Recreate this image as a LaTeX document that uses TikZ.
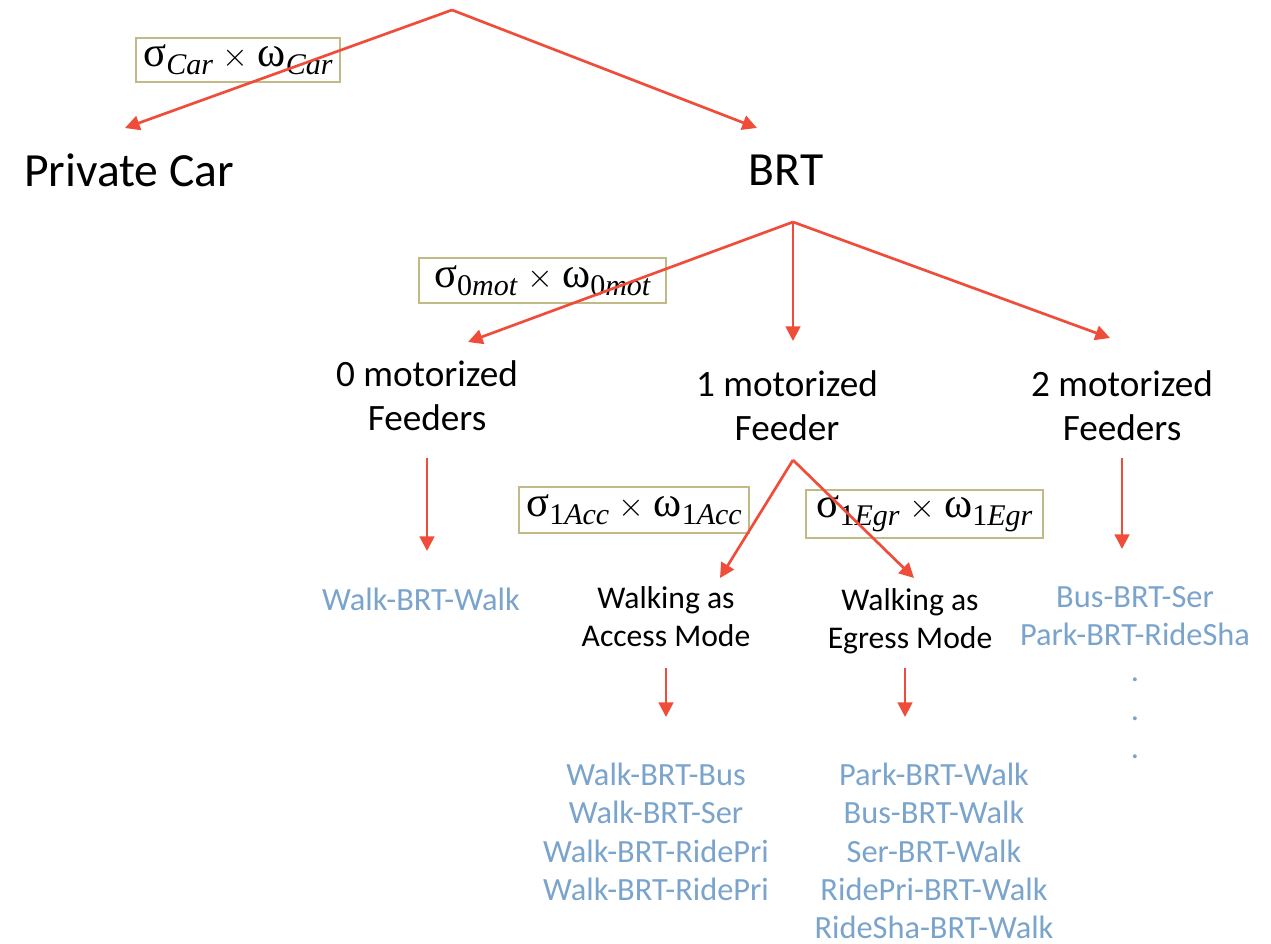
\documentclass[tikz,border=0pt]{standalone}
\usepackage{fontspec}
\setmainfont{Carlito}
\newfontfamily\lserif{Liberation Serif}
\usetikzlibrary{arrows.meta}
\definecolor{arr}{RGB}{240,76,58}
\definecolor{lst}{RGB}{122,164,203}
\definecolor{bxc}{RGB}{193,186,134}
\newcommand{\subx}[1]{\raisebox{-6pt}{\fontsize{22.5}{22.5}\selectfont #1}}
\newcommand{\wlab}[2]{{\lserif\fontsize{32}{34}\selectfont σ\subx{#1}\hspace{7pt}$\times$\hspace{7pt}ω\subx{#2}}}
\tikzset{
  conn/.style={draw=arr, line width=2pt, -{Triangle[length=11pt,width=11pt]}},
  big/.style={font=\fontsize{35.7}{42}\selectfont, inner sep=0pt},
  mid/.style={font=\fontsize{27.9}{33}\selectfont, align=center, inner sep=0pt},
  sml/.style={font=\fontsize{23.7}{28.6}\selectfont, align=center, inner sep=0pt},
  blu/.style={font=\fontsize{24.3}{28.8}\selectfont, align=center, inner sep=0pt, text=lst},
  wbox/.style={draw=bxc, line width=1.8pt, fill=white, inner sep=0pt},
}
\begin{document}
\begin{tikzpicture}[x=0.75pt,y=-0.75pt]
\useasboundingbox[fill=white] (0,0) rectangle (1271,944);
% weight boxes
\node[wbox, minimum width=204*0.75pt, minimum height=44*0.75pt] (b1) at (238,60) {\wlab{\textit{Car}}{\textit{Car}}};
\node[wbox, minimum width=247*0.75pt, minimum height=45*0.75pt] (b2) at (542.5,280.5) {\wlab{0\textit{mot}}{0\textit{mot}}};
\node[wbox, minimum width=230*0.75pt, minimum height=46*0.75pt] (b3) at (634,510) {\wlab{1\textit{Acc}}{1\textit{Acc}}};
\node[wbox, minimum width=237*0.75pt, minimum height=48*0.75pt] (b4) at (924.5,514) {\wlab{1\textit{Egr}}{1\textit{Egr}}};
% texts
\node[big] (pc) at (129,170) {Private Car};
\node[big] (brt) at (786,170) {BRT};
\node[mid] (m0) at (427,396) {0 motorized\\Feeders};
\node[mid] (m1) at (787,405.5) {1 motorized\\Feeder};
\node[mid] (m2) at (1122,405.5) {2 motorized\\Feeders};
\node[blu] (w0) at (421,599) {Walk-BRT-Walk};
\node[sml] (acc) at (666,617) {Walking as\\Access Mode};
\node[sml] (egr) at (910,621) {Walking as\\Egress Mode};
\node[blu] (la) at (656,832) {Walk-BRT-Bus\\Walk-BRT-Ser\\Walk-BRT-RidePri\\Walk-BRT-RidePri};
\node[blu] (le) at (934,851) {Park-BRT-Walk\\Bus-BRT-Walk\\Ser-BRT-Walk\\RidePri-BRT-Walk\\RideSha-BRT-Walk};
\node[blu] (l2) at (1135,616) {Bus-BRT-Ser\\Park-BRT-RideSha};
\node[blu] (d1) at (1135,680) {.};
\node[blu] (d2) at (1135,719) {.};
\node[blu] (d3) at (1135,757) {.};
% coordinates
\coordinate (top) at (452,10);
\coordinate (tpc) at (125,128);
\coordinate (tbrt) at (757,128);
\coordinate (ab) at (793,222);
\coordinate (t0) at (468,342);
\coordinate (t1) at (793,341);
\coordinate (t2) at (1110,338);
\coordinate (s0) at (427,458);
\coordinate (e0) at (427,551);
\coordinate (af) at (793,460);
\coordinate (tacc) at (720,578);
\coordinate (tegr) at (914,578);
\coordinate (s2) at (1122,458);
\coordinate (e2) at (1122,549);
\coordinate (sa) at (666,668);
\coordinate (ea) at (666,717);
\coordinate (se) at (905,668);
\coordinate (ee) at (905,717);
% connectors
\draw[conn] (top) -- (tpc);
\draw[conn] (top) -- (tbrt);
\draw[conn] (ab) -- (t0);
\draw[conn] (ab) -- (t1);
\draw[conn] (ab) -- (t2);
\draw[conn] (s0) -- (e0);
\draw[conn] (af) -- (tacc);
\draw[conn] (af) -- (tegr);
\draw[conn] (s2) -- (e2);
\draw[conn] (sa) -- (ea);
\draw[conn] (se) -- (ee);
\end{tikzpicture}
\end{document}
